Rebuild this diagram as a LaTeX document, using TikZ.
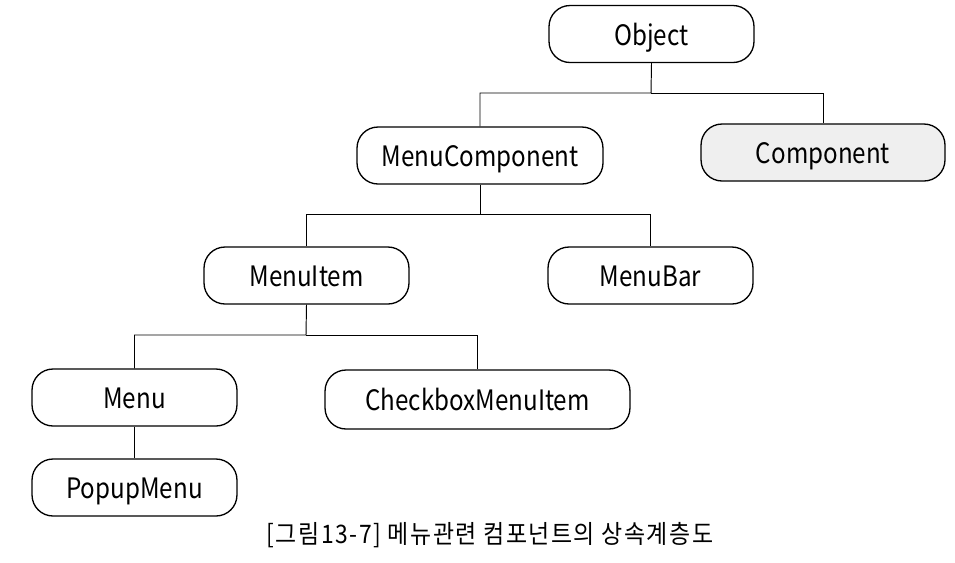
\documentclass[tikz,border=0pt]{standalone}
\usepackage{fontspec}
\setmainfont{Noto Sans CJK KR}[FakeStretch=0.86]
\newfontfamily\capfont{Noto Sans CJK KR}[FakeStretch=0.9,LetterSpace=6]
\usetikzlibrary{calc}
\definecolor{boxgray}{HTML}{EFEFEF}
\begin{document}
\begin{tikzpicture}[x=0.02cm,y=-0.02cm,
  cls/.style={draw,line width=0.75pt,rounded corners=0.42cm,minimum width=4.1cm,
    minimum height=1.14cm,font=\fontsize{16}{19}\selectfont,inner sep=0pt,
    text height=1.4em,text depth=0.12em},
  link/.style={line width=0.55pt}]
\useasboundingbox (0,0) rectangle (955,562);
% Draw the classes
\node[cls] (obj) at (651.5,34) {Object};
\node[cls,minimum width=4.92cm] (menucomp) at (480,155.5) {MenuComponent};
\node[cls,minimum width=4.88cm,fill=boxgray] (comp) at (823,152.5) {Component};
\node[cls] (menuitem) at (306.5,275.5) {MenuItem};
\node[cls] (menubar) at (650.5,275.5) {MenuBar};
\node[cls] (menu) at (134.5,397.5) {Menu};
\node[cls,minimum width=6.1cm,minimum height=1.18cm] (checkbox) at (477.5,399.5) {CheckboxMenuItem};
\node[cls] (popup) at (134.5,487.5) {PopupMenu};
% Draw the junctions
\coordinate (j1) at (651,93);
\coordinate (j2) at (480,214);
\coordinate (j3) at (306,335);
% Draw the links
\draw[link] (obj.south) -- (j1) -| (menucomp.north);
\draw[link] (j1) -| (comp.north);
\draw[link] (menucomp.south) -- (j2) -| (menuitem.north);
\draw[link] (j2) -| (menubar.north);
\draw[link] (menuitem.south) -- (j3) -| (menu.north);
\draw[link] (j3) -| (checkbox.north);
\draw[link] (menu) -- (popup);
% Draw the caption
\node[font=\capfont\fontsize{14.5}{17}\selectfont] (caption) at (490,535) {[그림13-7] 메뉴관련 컴포넌트의 상속계층도};
\end{tikzpicture}
\end{document}
